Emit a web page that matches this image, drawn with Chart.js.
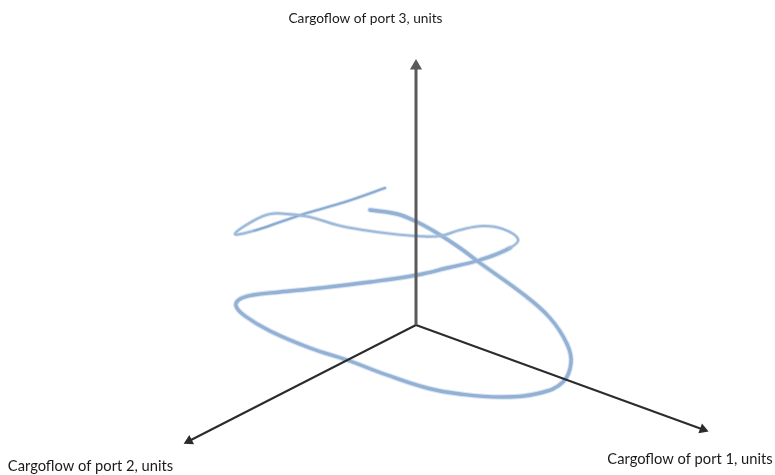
<!DOCTYPE html>
<html lang="en">
<head>
  <meta charset="UTF-8">
  <title>Cargoflow of three ports</title>
  <script src="https://cdn.jsdelivr.net/npm/chart.js"></script>
  <style>
    body { margin: 0; background: #fff; }
    canvas { display: block; filter: blur(0.4px); }
  </style>
</head>
<body>
  <canvas id="chart" width="775" height="475"></canvas>

  <script>
    // picture, in a flat 775 x 475 plane
    const originX = 416, originY = 325;
    const port1End = [703, 429.5];
    const port2End = [189, 441];
    const port3End = [416, 66];

    const curveX = [385, 345, 307, 283, 253, 235, 253, 270, 287, 310, 337, 363, 393, 417, 440, 460, 483, 503, 518, 510, 480, 447, 417, 370, 320, 280, 253, 240, 236, 245, 270, 310, 347, 387, 427, 460, 503, 540, 563, 571, 567, 550, 523, 480, 460, 437, 417, 397, 370];
    const curveY = [188, 202, 213, 221, 231, 234, 221, 214, 214, 217, 225, 230, 234, 236, 236, 230, 226, 229, 239, 248, 260, 268, 275, 282, 288, 292, 295, 299, 306, 316, 331, 348, 360, 375, 388, 394, 397, 393, 382, 363, 344, 318, 294, 263, 248, 233, 222, 214, 210];

    const labelText = ["Cargoflow of port 3, units", "Cargoflow of port 1, units", "Cargoflow of port 2, units"];
    const labelX = [365.5, 690, 90.5];
    const labelY = [19, 459, 466];

    const curvePoints = curveX.map((x, i) => ({ x: x, y: curveY[i] }));

    function axisLine(end, color, width, head) {
      return {
        data: [{ x: originX, y: originY }, { x: end[0], y: end[1] }],
        showLine: true,
        borderColor: color,
        borderWidth: width,
        pointStyle: "triangle",
        pointRadius: [0, head],
        pointRotation: [0, Math.atan2(end[0] - originX, originY - end[1]) * 180 / Math.PI],
        pointBackgroundColor: color,
        pointBorderColor: color,
        pointBorderWidth: 0
      };
    }

    function curveLine(colorFn, thin, thick) {
      return {
        data: curvePoints,
        showLine: true,
        tension: 0.4,
        pointRadius: 0,
        borderCapStyle: "round",
        borderJoinStyle: "round",
        segment: {
          borderColor: colorFn,
          borderWidth: ctx => ctx.p0DataIndex < 19 ? thin : thick
        }
      };
    }

    const axisLabels = {
      id: "axisLabels",
      afterDraw(chart) {
        const c = chart.ctx;
        c.save();
        c.fillStyle = "#1a1a1a";
        c.textAlign = "center";
        c.textBaseline = "middle";
        labelText.forEach((t, i) => {
          c.font = (i === 0 ? "13.7px" : "14.7px") + " Lato";
          c.fillText(t, chart.scales.x.getPixelForValue(labelX[i]), chart.scales.y.getPixelForValue(labelY[i]));
        });
        c.restore();
      }
    };

    new Chart(document.getElementById("chart"), {
      type: "scatter",
      data: {
        datasets: [
          axisLine(port3End, "#5a5a5a", 3, 7),
          axisLine(port1End, "#2b2b2b", 2, 6),
          axisLine(port2End, "#2b2b2b", 2, 6),
          curveLine(() => "rgba(170,195,225,0.45)", 4, 5.5),
          curveLine(ctx => ctx.p0DataIndex < 4 ? "#6f97c6" : ctx.p0DataIndex < 19 ? "#94b2d5" : "#7fa2cb", 2.2, 3.4)
        ]
      },
      options: {
        responsive: false,
        animation: false,
        layout: { padding: 0, autoPadding: false },
        plugins: { legend: { display: false }, tooltip: { enabled: false } },
        scales: {
          x: { type: "linear", min: 0, max: 775, display: false },
          y: { type: "linear", min: 0, max: 475, reverse: true, display: false }
        }
      },
      plugins: [axisLabels]
    });
  </script>
</body>
</html>
